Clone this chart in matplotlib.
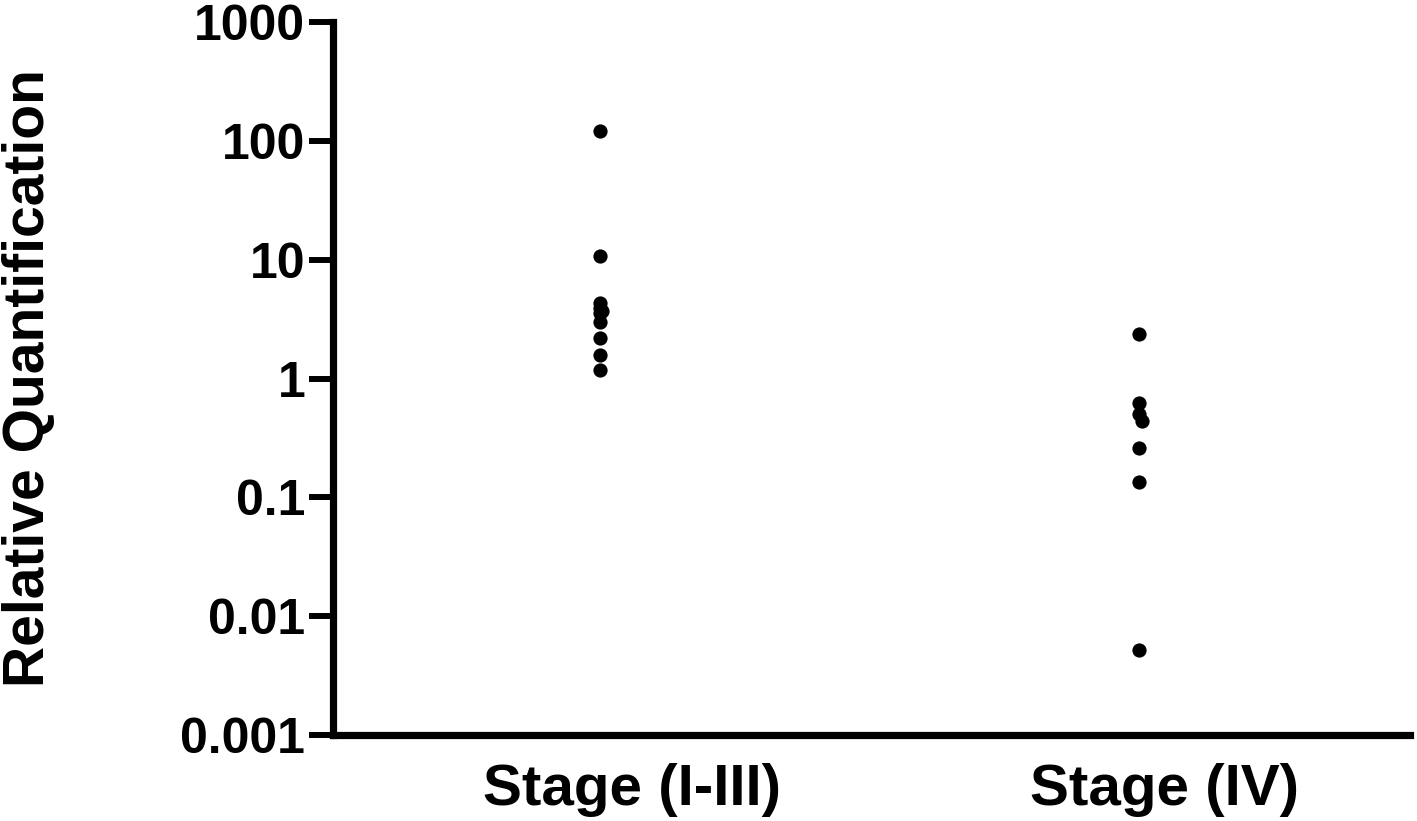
import numpy as np
import matplotlib.pyplot as plt

plt.rcParams['font.family'] = ['Liberation Sans', 'DejaVu Sans']
plt.rcParams['font.weight'] = 'bold'

# dane
groups = ["Stage (I-III)", "Stage (IV)"]
stage_early = [120.7, 10.7, 4.34, 3.94, 3.73, 3.57, 2.98, 2.18, 1.59, 1.18]
stage_early_dx = [0, 0, 0, 0, 0.005, 0, 0, 0, 0, 0]
stage_late = [2.38, 0.624, 0.505, 0.443, 0.262, 0.134, 0.00524]
stage_late_dx = [0, 0, 0, 0.005, 0, 0, 0]

fig = plt.figure(figsize=(14.17, 8.21), dpi=100)
ax = fig.add_axes([0.235, 0.1047, 0.76, 0.8685])

shifts = [-0.06, -0.048]
for i, (vals, dx) in enumerate([(stage_early, stage_early_dx), (stage_late, stage_late_dx)]):
    xs = i + shifts[i] + np.array(dx)
    ax.scatter(xs, vals, s=105, color='black', zorder=3, linewidths=0)

ax.set_yscale('log')
ax.set_ylim(0.001, 1000)
ax.set_xlim(-0.56, 1.46)
ax.set_yticks([0.001, 0.01, 0.1, 1, 10, 100, 1000])
ax.set_yticklabels(["0.001", "0.01", "0.1", "1", "10", "100", "1000"])
ax.minorticks_off()
ax.set_xticks([0, 1])
ax.set_xticklabels(groups)

for s in ['top', 'right']:
    ax.spines[s].set_visible(False)
for s in ['left', 'bottom']:
    ax.spines[s].set_linewidth(5.2)
    ax.spines[s].set_capstyle('projecting')

ax.tick_params(axis='y', length=17, width=4.3, pad=3, labelsize=36)
ax.tick_params(axis='x', length=0, pad=20, labelsize=42)
for t in ax.yaxis.get_ticklines():
    t.set_solid_capstyle('round')
ax.set_ylabel("Relative Quantification", fontsize=41, fontweight='bold')
ax.yaxis.set_label_coords(-0.257, 0.5)

fig.savefig("out.png", dpi=100)
